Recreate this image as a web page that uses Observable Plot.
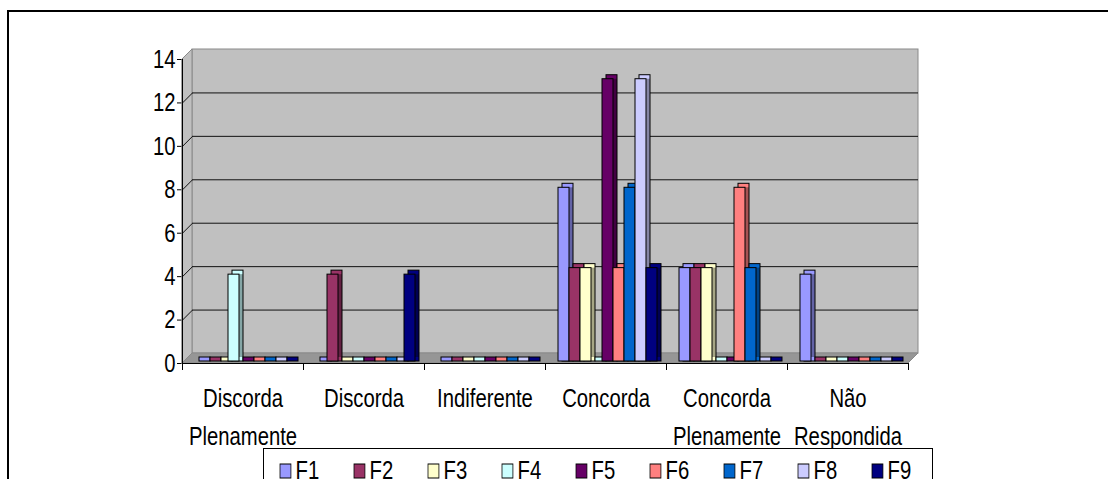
<!DOCTYPE html>
<html>
<head>
<meta charset="utf-8">
<script src="https://cdn.jsdelivr.net/npm/d3@7"></script>
<script src="https://cdn.jsdelivr.net/npm/@observablehq/plot@0.6"></script>
<style>
  html, body { margin:0; padding:0; background:#fff; }
  body { width:1108px; height:479px; overflow:hidden; position:relative; }
  #border { position:absolute; left:7px; top:10px; width:1300px; height:700px; border:2px solid #000; }
  #bg, #fg { position:absolute; left:0; top:0; }
  #legend { position:absolute; left:263px; top:448px; width:670px; height:60px; border:1px solid #000; box-sizing:border-box; background:#fff; padding:6px 0 0 16px; }
  #legend div { font-family:"Liberation Sans",Arial,sans-serif !important; font-size:26px !important; margin:0 !important; min-height:0 !important; color:#000; flex-wrap:nowrap !important; display:flex; }
  #legend span { width:74px; min-width:74px; margin:0 !important; flex:none; transform:scaleX(0.78); transform-origin:left center; white-space:nowrap; }
  #legend span svg { margin-right:6px !important; overflow:visible; }
  #legend span svg rect { stroke:#000; stroke-width:1px; }
</style>
</head>
<body>
<div id="border"></div>
<div id="bg"></div>
<div id="fg"></div>
<div id="legend"></div>
<script>
const categories = ["Discorda Plenamente", "Discorda", "Indiferente", "Concorda", "Concorda Plenamente", "Não Respondida"];
const series = ["F1", "F2", "F3", "F4", "F5", "F6", "F7", "F8", "F9"];
const colors = ["#9999FF", "#993366", "#FFFFCC", "#CCFFFF", "#660066", "#FF8080", "#0066CC", "#CCCCFF", "#000080"];
const f1 = [0, 0, 0, 8, 4.3, 4];
const f2 = [0, 4, 0, 4.3, 4.3, 0];
const f3 = [0, 0, 0, 4.3, 4.3, 0];
const f4 = [4, 0, 0, 0, 0, 0];
const f5 = [0, 0, 0, 13, 0, 0];
const f6 = [0, 0, 0, 4.3, 8, 0];
const f7 = [0, 0, 0, 8, 4.3, 0];
const f8 = [0, 0, 0, 13, 0, 0];
const f9 = [0, 4, 0, 4.3, 0, 0];
const yTicks = [0, 2, 4, 6, 8, 10, 12, 14];

const seriesValues = [f1, f2, f3, f4, f5, f6, f7, f8, f9];
const data = series.flatMap((s, si) => categories.map((c, ci) => ({cat: c, series: s, value: seriesValues[si][ci]})));

const FONT = '"Liberation Sans",Arial,sans-serif';
const W = 1108, H = 479, ML = 182, MR = 200, MT = 59, MB = 116;
const DEPTH = 10;
const nCat = categories.length;
const yMax = 14;
const DX = DEPTH * nCat / (W - ML - MR);
const DY = DEPTH * yMax / (H - MT - MB);
const grid = yTicks.filter(t => t > 0 && t < yMax);

const bg = Plot.plot({
  width: W, height: H,
  marginLeft: ML, marginRight: MR, marginTop: MT, marginBottom: MB,
  style: {background: "transparent", fontFamily: FONT, fontSize: "26px", color: "#000"},
  x: {domain: [0, nCat], ticks: d3.range(nCat + 1), tickFormat: () => "", tickSize: 7, label: null},
  y: {domain: [0, yMax], ticks: yTicks, tickSize: 5, tickPadding: 2, label: null},
  marks: [
    Plot.rect([0], {x1: 0, x2: nCat, y1: 0, y2: yMax, dx: DEPTH, dy: -DEPTH, fill: "#c0c0c0", stroke: "#8a8a8a"}),
    Plot.areaY([{x: 0, a: 0, b: 0}, {x: DX, a: 0, b: DY}, {x: nCat, a: 0, b: DY}, {x: nCat + DX, a: DY, b: DY}],
      {x: "x", y1: "a", y2: "b", fill: "#969696", stroke: "#8a8a8a"}),
    Plot.areaY([{x: 0, a: 0, b: yMax}, {x: DX, a: DY, b: yMax + DY}],
      {x: "x", y1: "a", y2: "b", fill: "#c0c0c0", stroke: "#8a8a8a"}),
    Plot.ruleY(grid, {x1: 0, x2: nCat, dx: DEPTH, dy: -DEPTH, stroke: "#111"}),
    Plot.link(grid, {x1: 0, x2: DX, y1: d => d, y2: d => d + DY, stroke: "#111"}),
    Plot.ruleX([0], {y1: 0, y2: yMax, stroke: "#000"}),
    Plot.ruleY([0], {x1: 0, x2: nCat, stroke: "#000"}),
    Plot.text(categories, {x: (d, i) => i + 0.5, y: 0, text: d => d.replace(" ", "\n"),
      lineAnchor: "top", dy: 16, lineHeight: 1.48, fontSize: 26, fill: "#000"})
  ]
});
document.getElementById("bg").appendChild(bg);

// emulate the narrow (Arial Narrow-like) face of the original by condensing each text horizontally
const SQUEEZE = 0.78;
for (const t of bg.querySelectorAll("text")) {
  const b = t.getBBox();
  const anchor = getComputedStyle(t).textAnchor;
  const ax = anchor === "middle" ? b.x + b.width / 2 : anchor === "end" ? b.x + b.width : b.x;
  const tr = t.getAttribute("transform") || "";
  t.setAttribute("transform", `${tr} translate(${ax},0) scale(${SQUEEZE},1) translate(${-ax},0)`);
}

const fg = Plot.plot({
  width: W, height: H,
  marginLeft: ML, marginRight: MR, marginTop: MT, marginBottom: MB,
  style: {background: "transparent", fontFamily: FONT},
  fx: {domain: categories, padding: 0, axis: null, label: null},
  x: {domain: series, paddingInner: 0, paddingOuter: 0.9, axis: null},
  y: {domain: [0, yMax], axis: null},
  color: {domain: series, range: colors},
  marks: [
    Plot.barY(data, {fx: "cat", x: "series", y: "value", fill: "series", stroke: "#000", strokeWidth: 1,
      dx: 6, dy: -6, insetBottom: -4}),
    Plot.barY(data, {fx: "cat", x: "series", y: "value", fill: "#000", fillOpacity: 0.35,
      dx: 6, dy: -6, insetTop: 4}),
    Plot.barY(data, {fx: "cat", x: "series", y: "value", fill: "series", stroke: "#000", strokeWidth: 1,
      dx: 2, dy: -2})
  ]
});
document.getElementById("fg").appendChild(fg);

document.getElementById("legend").appendChild(
  fg.legend("color", {swatchWidth: 14, swatchHeight: 14, className: "lg"})
);
</script>
</body>
</html>
